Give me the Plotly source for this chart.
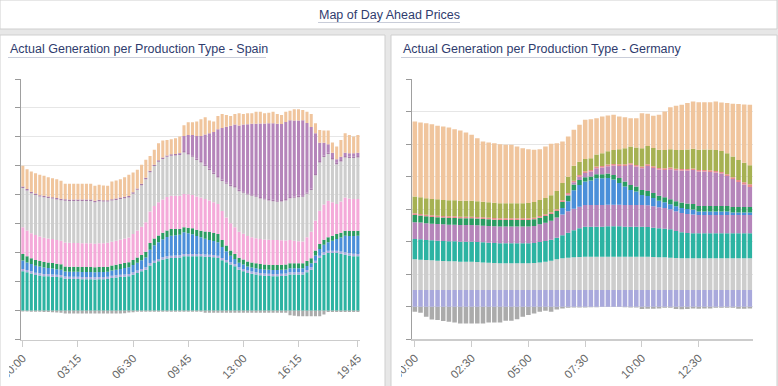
import plotly.graph_objects as go

W, H = 778, 386

# ---------------- data ----------------
sp_times = ["%02d:%02d" % (h, m) for h in range(20) for m in (0, 15, 30, 45)]
de_times = ["%02d:%02d" % (h, m) for h in range(15) for m in (0, 15, 30, 45)]
sp_ticks = ["00:00", "03:15", "06:30", "09:45", "13:00", "16:15", "19:45"]
de_ticks = ["00:00", "02:30", "05:00", "07:30", "10:00", "12:30"]

sp_neg = [-150, -150, -200, -200, -200, -250, -250, -300, -350, -400,
          -500, -500, -500, -500, -500, -500, -500, -500, -500, -500,
          -500, -500, -500, -500, -450, -350, -300, -200, -200, -200,
          -200, -200, -200, -200, -200, -200, -200, -200, -200, -200,
          -200, -200, -200, -400, -400, -400, -400, -400, -400, -400,
          -400, -400, -400, -400, -400, -400, -400, -400, -400, -400,
          -400, -400, -400, -800, -900, -1000, -1000, -1000, -1000, -1000,
          -1000, -700, -250, -250, -250, -250, -250, -250, -250, -250]
sp_teal = [6790, 6610, 6380, 6150, 6040, 5920, 5920, 5850, 5800, 5750,
           5500, 5460, 5460, 5460, 5400, 5400, 5400, 5350, 5400, 5400,
           5460, 5630, 5700, 5800, 5850, 5920, 6200, 6500, 6785, 7070,
           7800, 8200, 8500, 8800, 9000, 9085, 9100, 9150, 9370, 9370,
           9370, 9370, 9370, 9300, 9250, 9200, 9085, 8700, 8340, 7935,
           7650, 7070, 6800, 6500, 6350, 6210, 6100, 6000, 5950, 5920,
           5920, 5950, 6000, 6210, 6210, 6210, 6210, 6600, 7070, 8200,
           9085, 9660, 9950, 9950, 9950, 9800, 9660, 9500, 9400, 9370]
sp_lav = [400] * 80
sp_blue = [1440, 1300, 1270, 1200, 1150, 1100, 1050, 1000, 950, 900,
           860, 860, 860, 860, 860, 860, 860, 860, 860, 860,
           860, 900, 950, 1000, 1100, 1150, 1250, 1350, 1500, 1700,
           2300, 2700, 2900, 3100, 3300, 3450, 3500, 3550, 3740, 3600,
           3400, 3100, 2875, 2700, 2550, 2400, 2300, 1900, 1500, 1150,
           860, 800, 760, 720, 700, 700, 700, 700, 700, 700,
           700, 700, 700, 700, 700, 700, 700, 700, 700, 900,
           1150, 1300, 1440, 1700, 2010, 2400, 2875, 3000, 3100, 3160]
sp_green = [1150, 1050, 1000, 1000, 950, 950, 950, 950, 950, 950,
            860, 860, 860, 860, 860, 860, 860, 860, 860, 860,
            860, 860, 860, 860, 860, 860, 880, 900, 900, 1000,
            1150, 1150, 1150, 1150, 1150, 1150, 1100, 1000, 860, 950,
            1050, 1100, 1150, 1250, 1350, 1400, 1440, 1200, 1000, 900,
            860, 860, 860, 860, 860, 860, 860, 860, 860, 860,
            860, 860, 860, 860, 860, 860, 860, 860, 860, 860,
            860, 860, 860, 860, 860, 860, 860, 860, 860, 860]
sp_pink = [4600, 4480, 4310, 4310, 4250, 4200, 4140, 4140, 4100, 4050,
           4140, 4140, 4100, 4100, 4100, 4100, 4100, 4050, 4100, 4100,
           4140, 4100, 4150, 4200, 4250, 4310, 4500, 4700, 4890, 5100,
           5460, 5600, 5750, 5750, 5750, 5750, 5750, 5750, 5750, 5750,
           5750, 5750, 5750, 5600, 5450, 5300, 5175, 5000, 4850, 4700,
           4600, 4500, 4450, 4400, 4350, 4310, 4310, 4310, 4310, 4310,
           4310, 4250, 4150, 4025, 3900, 3800, 3740, 4100, 4600, 5200,
           5750, 6100, 6325, 5800, 5175, 5400, 5750, 5600, 5500, 5460]
sp_grey = [6790, 6900, 6900, 6900, 6900, 7000, 7000, 7000, 7000, 7000,
           7200, 7200, 7250, 7250, 7300, 7300, 7300, 7200, 7250, 7200,
           7100, 7100, 7050, 7000, 6950, 6900, 6950, 7000, 7190, 7400,
           6800, 6900, 7000, 7000, 6950, 6900, 6950, 7000, 7190, 6900,
           6600, 6300, 6040, 5700, 5300, 4900, 4600, 5200, 5800, 6400,
           6900, 7000, 7100, 7150, 7190, 7190, 7000, 6900, 6800, 6700,
           6610, 6700, 6900, 7190, 7400, 7600, 7760, 7500, 7190, 7800,
           8340, 8200, 8050, 7400, 6900, 6900, 6900, 7000, 7100, 7190]
sp_mauve = [250] * 80
sp_solar = [0] * 37 + [100, 2590, 3100,
            3500, 3900, 4310, 5200, 6100, 7000, 8050, 8900, 9600, 10200,
            10640, 11100, 11500, 11900, 12150, 12360, 12700, 12900, 13100, 13200,
            13225, 13100, 13300, 13225, 13100, 13000, 12940, 12000, 10640, 7000,
            3160, 2200, 1440, 900, 575, 575, 575, 575, 575, 575]
sp_peach = [3580, 3440, 3510, 3520, 3510, 3450, 3330, 3280, 3250, 3110,
            2680, 2720, 2710, 2710, 2720, 2720, 2720, 2580, 2600, 2530,
            2480, 3060, 3110, 3190, 3380, 3660, 3420, 3210, 3255, 3110,
            2560, 2560, 2950, 2920, 2680, 2615, 2720, 2860, 1850, 2210,
            2210, 2470, 2895, 2990, 2160, 1790, 2320, 2410, 2050, 1685,
            1800, 2100, 1840, 1900, 1830, 2080, 2040, 1760, 1820, 2020,
            1685, 1580, 1800, 1670, 1950, 1950, 1790, 1950, 2250, 1750,
            2205, 2120, 2375, 1760, 2210, 2895, 3360, 3155, 2875, 3075]

de_neg = [-1540, -1850, -3080, -3900, -4100, -4400, -4600, -4800, -5130, -5130,
          -5130, -5130, -5130, -4800, -4800, -4800, -4300, -4300, -3800, -3080,
          -2560, -2050, -1540, -1230, -1540, -820, -510, -300, -200, -200,
          -200, -150, -150, -100, -100, -100, -100, -150, -200, -200,
          -700, -600, -600, -500, -300, -300, -700, -800, -700, -500,
          -600, -500, -500, -300, -300, -300, -300, -600, -600, -500]
de_lav = [5130] * 60
de_grey = [9440, 9340, 9240, 9130, 9030, 8930, 8820, 8820, 8720, 8720,
           8720, 8620, 8510, 8410, 8310, 8210, 8210, 8210, 8210, 8210,
           8210, 8310, 8510, 8720, 9030, 9440, 9750, 9950, 10050, 10150,
           10260, 10260, 10260, 10260, 10260, 10260, 10260, 10260, 10260, 10260,
           10260, 10260, 10150, 10050, 10050, 9950, 9850, 9750, 9750, 9750,
           9750, 9750, 9750, 9750, 9750, 9750, 9750, 9750, 9750, 9750]
de_teal = [6260, 6260, 6160, 6160, 6160, 6160, 6160, 6160, 6160, 6160,
           6160, 6160, 6160, 6160, 6160, 6160, 6160, 6160, 6160, 6160,
           6160, 6160, 6260, 6360, 6460, 6670, 7080, 7700, 8310, 8820,
           9230, 9230, 9230, 9230, 9330, 9330, 9330, 9230, 9230, 9230,
           9230, 9130, 9030, 8920, 8820, 8720, 8310, 8000, 7800, 7700,
           7700, 7700, 7700, 7700, 7700, 7700, 7700, 7700, 7700, 7700]
de_purple = [5130] * 20 + [5130, 5230, 5440, 5640, 5850, 6160, 6360, 6560, 6670, 6670,
             6670, 6670, 6670, 6670, 6670, 6670, 6670, 6670, 6670, 6670,
             6670, 6670, 6560, 6460, 6360, 6160, 6050, 5950, 5850, 5750,
             5640, 5640, 5640, 5640, 5640, 5640, 5640, 5640, 5640, 5640]
de_blue = [0] * 26 + [2050, 3080, 5640, 6670,
           7180, 7490, 8210, 8210, 8210, 7700, 6670, 5640, 4620, 4100,
           3080, 2870, 2560, 2050, 1740, 1540, 1540, 1540, 1540, 1540,
           1030, 1030, 1030, 1030, 1030, 1030, 720, 720, 720, 720]
de_green = [2260, 2150, 2150, 2050, 2050, 2050, 2050, 2050, 2050, 2050,
            2050, 2050, 2050, 2050, 2050, 2050, 2050, 2050, 2050, 2050,
            2050, 2050, 2050, 2050, 2050, 2050, 1850, 1740, 1740, 1540,
            1330, 1230, 1230, 1230, 1330, 1440, 1540, 1540, 1540, 1540,
            1540, 1540, 1540, 1540, 1540, 1540, 1540, 1640, 1640, 1740,
            1740, 1740, 1740, 1740, 1740, 1740, 1740, 1740, 1740, 1740]
de_solar = [0] * 27 + [300, 700, 1000,
            1330, 1540, 1850, 2050, 2260, 2870, 3700, 4820, 6160, 6160,
            6670, 7700, 7700, 8000, 8410, 9230, 9500, 9850, 10150, 10400,
            10570, 10570, 10460, 10260, 9950, 9230, 8620, 7700, 6880, 6160]
de_pink = [500] * 57 + [600, 700, 820]
de_olive = [5130, 5130, 5030, 5030, 5030, 4920, 4920, 4920, 4920, 4920,
            4920, 4820, 4820, 4720, 4720, 4620, 4620, 4620, 4620, 4620,
            4720, 4820, 4920, 5030, 5230, 5640, 5330, 5030, 4620, 4100,
            3800, 3590, 3700, 3900, 4100, 4300, 4600, 4900, 5130, 5330,
            5640, 5640, 5640, 5640, 5640, 5640, 5750, 5850, 5950, 6050,
            6160, 6260, 6360, 6460, 6460, 6460, 6360, 6160, 6000, 5850]
de_peach = [23090, 23000, 23090, 22990, 22580, 22580, 22390, 21870, 21560, 20950,
            20230, 19400, 18490, 18380, 18270, 18170, 17960, 17960, 17450, 16940,
            16530, 16020, 15620, 15820, 15820, 14680, 12740, 12340, 11020, 11340,
            12030, 12020, 11190, 11300, 11000, 10800, 10080, 9590, 8730, 9050,
            10790, 9860, 9880, 10710, 11830, 12940, 13600, 13860, 14280, 14540,
            14670, 14570, 14580, 14890, 14890, 15410, 16220, 17140, 17920, 18560]

# ---------------- styles ----------------
C_NEG = "#ababab"
C_TEAL = "#2cb3a2"
C_LAV = "#a9a9dc"
C_BLUE = "#4a8fd9"
C_GREEN = "#2a9c62"
C_PINK = "#f4aad9"
C_GREY = "#cdcdcd"
C_MAUVE = "#a77aa9"
C_SOLAR = "#b585ba"
C_PEACH = "#f0c59d"
C_OLIVE = "#a6b152"
C_RED = "#e88a8c"

def px(x):
    return x / W

def py(y):
    return 1 - y / H

fig = go.Figure()

sp_series = [(sp_neg, C_NEG), (sp_teal, C_TEAL), (sp_lav, C_LAV), (sp_blue, C_BLUE),
             (sp_green, C_GREEN), (sp_pink, C_PINK), (sp_grey, C_GREY),
             (sp_mauve, C_MAUVE), (sp_solar, C_SOLAR), (sp_peach, C_PEACH)]
for vals, col in sp_series:
    fig.add_trace(go.Bar(x=sp_times, y=vals, marker=dict(color=col, line=dict(width=0)),
                         width=0.72, xaxis="x", yaxis="y", showlegend=False))

de_series = [(de_neg, C_NEG), (de_lav, C_LAV), (de_grey, C_GREY), (de_teal, C_TEAL),
             (de_purple, C_SOLAR), (de_blue, C_BLUE), (de_green, C_GREEN),
             (de_solar, C_SOLAR), (de_pink, C_RED), (de_olive, C_OLIVE), (de_peach, C_PEACH)]
for vals, col in de_series:
    fig.add_trace(go.Bar(x=de_times, y=vals, marker=dict(color=col, line=dict(width=0)),
                         width=0.8, xaxis="x2", yaxis="y2", showlegend=False))

font_fam = "Arial, Liberation Sans, sans-serif"
xcommon = dict(type="category", tickangle=-45, ticks="outside", ticklen=6, tickcolor="#cccccc",
               showline=True, linecolor="#cccccc", linewidth=1.5, showgrid=False, automargin=False,
               tickfont=dict(family=font_fam, size=11.5, color="#666666"), fixedrange=True)
ycommon = dict(showticklabels=False, ticks="outside", ticklen=5, tickcolor="#999999",
               showline=True, linecolor="#a0a0a0", linewidth=1, showgrid=True, automargin=False,
               gridcolor="#e6e6e6", gridwidth=1, zeroline=False, fixedrange=True)

fig.update_layout(
    template="none",
    width=W, height=H, autosize=False, margin=dict(l=0, r=0, t=0, b=0, pad=0),
    paper_bgcolor="#e7e7e7", plot_bgcolor="rgba(0,0,0,0)",
    barmode="relative", hovermode=False,
    xaxis=dict(domain=[px(20.7), px(360)], anchor="y", range=[-0.5, 79.5],
               tickvals=sp_ticks, ticktext=sp_ticks, **xcommon),
    yaxis=dict(domain=[py(339.5), py(79)], anchor="x", range=[-5000, 40000], dtick=5000, **ycommon),
    xaxis2=dict(domain=[px(412), px(752.7)], anchor="y2", range=[-0.5, 59.5],
                tickvals=de_ticks, ticktext=de_ticks, **xcommon),
    yaxis2=dict(domain=[py(339.3), py(79)], anchor="x2", range=[-10000, 70000], dtick=10000, **ycommon),
)

shapes = []
def rect(x0, y0, x1, y1, fill, line=None, layer="below"):
    shapes.append(dict(type="rect", xref="paper", yref="paper", x0=px(x0), x1=px(x1),
                       y0=py(y1), y1=py(y0), fillcolor=fill,
                       line=dict(color=line or fill, width=1 if line else 0), layer=layer))

def hline(x0, x1, y, col):
    shapes.append(dict(type="line", xref="paper", yref="paper", x0=px(x0), x1=px(x1),
                       y0=py(y), y1=py(y), line=dict(color=col, width=1), layer="above"))

# panels
rect(0, 0, 777, 29, "#ffffff", "#cfcfcf")
rect(0, 35, 385, 390, "#ffffff", "#cfcfcf")
rect(391, 35, 777, 390, "#ffffff", "#cfcfcf")
# panel inner clipping of the axis labels
rect(1, 36, 9, 385.5, "#ffffff", layer="above")
rect(392, 36, 401, 385.5, "#ffffff", layer="above")
# title underlines
hline(318, 460, 22.5, "#c9cdd9")
hline(8, 266, 57.5, "#c9cdd9")
hline(401, 677, 57.5, "#c9cdd9")
fig.update_layout(shapes=shapes)

tcol = "#2f3c6e"
ann = [
    dict(text="Map of Day Ahead Prices", x=px(389), y=py(15), xanchor="center", yanchor="middle"),
    dict(text="Actual Generation per Production Type - Spain", x=px(8), y=py(48.5), xanchor="left", yanchor="middle"),
    dict(text="Actual Generation per Production Type - Germany", x=px(401), y=py(48.5), xanchor="left", yanchor="middle"),
]
for a in ann:
    a.update(xref="paper", yref="paper", showarrow=False,
             font=dict(family=font_fam, size=12.5, color=tcol))
fig.update_layout(annotations=ann)

fig.write_html("out.html", config={"displayModeBar": False, "staticPlot": True},
               post_script="document.body.style.margin='0';document.body.style.overflow='hidden';")
